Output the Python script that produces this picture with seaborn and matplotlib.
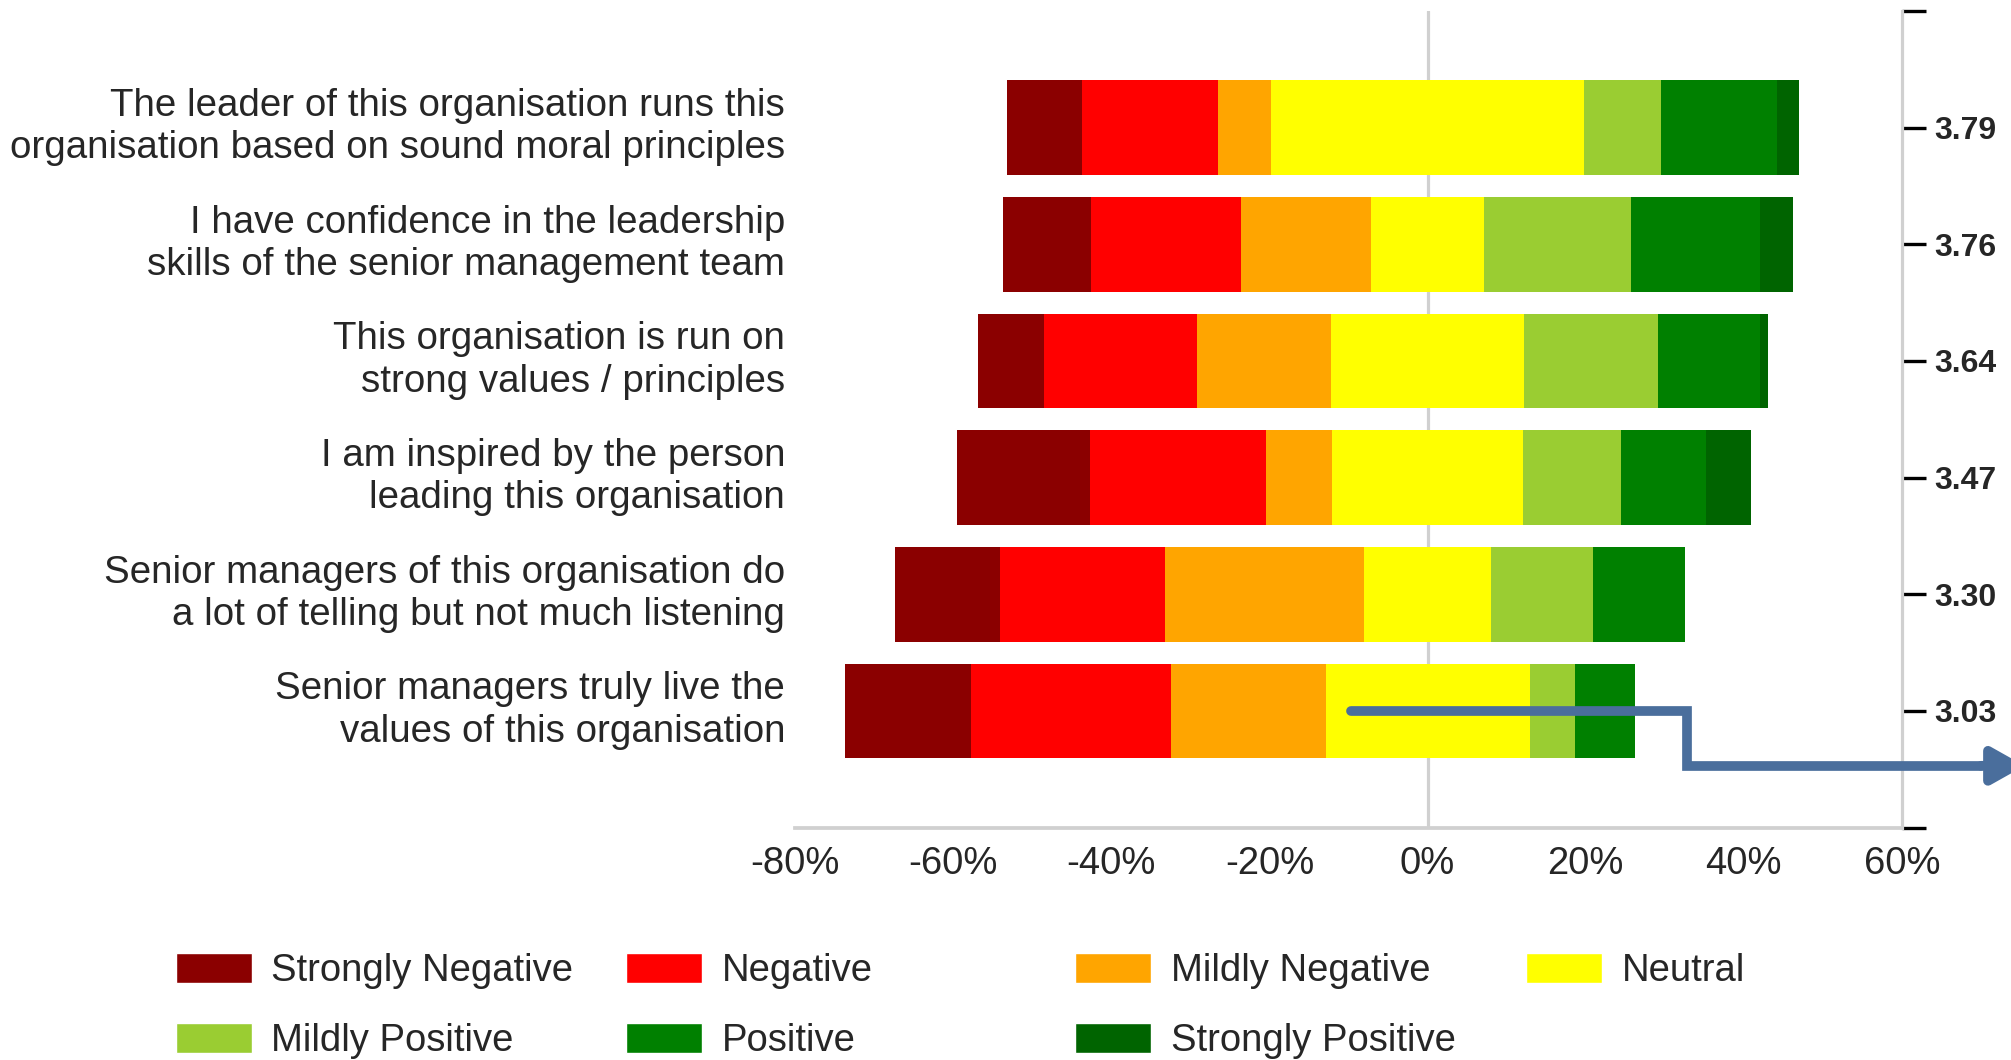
import matplotlib
matplotlib.use("Agg")
import matplotlib.pyplot as plt
import matplotlib.transforms as mtransforms
import seaborn as sns
import numpy as np
from matplotlib.patches import Patch

# statements, top to bottom
statements = [
    "The leader of this organisation runs this\norganisation based on sound moral principles",
    "I have confidence in the leadership\nskills of the senior management team",
    "This organisation is run on\nstrong values / principles",
    "I am inspired by the person\nleading this organisation",
    "Senior managers of this organisation do\na lot of telling but not much listening",
    "Senior managers truly live the\nvalues of this organisation",
]

# share of answers (%) per statement
strongly_negative = [9.4, 11.1, 8.4, 16.8, 13.3, 16.0]
negative = [17.3, 19.0, 19.4, 22.2, 20.9, 25.3]
mildly_negative = [6.7, 16.5, 16.9, 8.4, 25.2, 19.5]
neutral = [39.5, 14.2, 24.4, 24.1, 16.0, 25.8]
mildly_positive = [9.8, 18.6, 16.9, 12.4, 12.9, 5.7]
positive = [14.6, 16.4, 12.9, 10.7, 11.6, 7.6]
strongly_positive = [2.8, 4.1, 1.0, 5.8, 0.0, 0.0]

mean_scores = ["3.79", "3.76", "3.64", "3.47", "3.30", "3.03"]

x_ticks = [-80, -60, -40, -20, 0, 20, 40, 60]

# the blue step line (x in %, y in row units)
path_x = [-9.7, 32.8, 32.8, 70.0]
path_y = [5.0, 5.0, 5.47, 5.47]

labels = ["Strongly Negative", "Negative", "Mildly Negative", "Neutral",
          "Mildly Positive", "Positive", "Strongly Positive"]
colors = ["#8B0000", "#FF0000", "#FFA500", "#FFFF00",
          "#9ACD32", "#008000", "#006400"]
BLUE = "#4A6E9C"
GRID = "#D0D0D0"


def main():
    sns.set_style("white")
    plt.rcParams["font.family"] = ["Liberation Sans", "DejaVu Sans"]

    fig = plt.figure(figsize=(20.11, 10.6), dpi=100)
    ax = fig.add_axes([0.3953, 0.2192, 0.5505, 0.7705])

    sn = np.array(strongly_negative)
    ng = np.array(negative)
    mn = np.array(mildly_negative)
    nu = np.array(neutral) / 2
    mp = np.array(mildly_positive)
    ps = np.array(positive)
    sp = np.array(strongly_positive)

    # negative side: draw the longest first, shorter ones on top
    left_ends = [-(nu + mn + ng + sn), -(nu + mn + ng), -(nu + mn), -nu]
    right_ends = [nu + mp + ps + sp, nu + mp + ps, nu + mp, nu]
    left_cols = [colors[0], colors[1], colors[2], colors[3]]
    right_cols = [colors[6], colors[5], colors[4], colors[3]]

    ax.axvline(0, color=GRID, lw=2.3, zorder=0)
    for ends, col in zip(left_ends + right_ends, left_cols + right_cols):
        sns.barplot(x=list(ends), y=statements, orient="h", color=col,
                    saturation=1, width=0.81, linewidth=0, errorbar=None,
                    ax=ax, zorder=2)

    ax.set_xlim(-80, 60)
    ax.set_ylim(6, -1)
    ax.set_xticks(x_ticks)
    ax.set_xticklabels([f"{v}%" for v in x_ticks])
    ax.set_xlabel("")
    ax.set_ylabel("")
    ax.tick_params(axis="x", length=8.3, width=2.2, color="black",
                   labelsize=27.5, pad=5, direction="out")
    ax.tick_params(axis="y", length=0, labelsize=27.7, pad=7)
    shift_up = mtransforms.ScaledTranslation(0, 0.075, fig.dpi_scale_trans)
    for lab in ax.get_yticklabels():
        lab.set_linespacing(1.22)
        lab.set_transform(lab.get_transform() + shift_up)
    for side in ["left", "top", "right"]:
        ax.spines[side].set_visible(False)
    ax.spines["bottom"].set_color(GRID)
    ax.spines["bottom"].set_linewidth(2.7)

    # mean score axis on the right
    ax2 = ax.twinx()
    ax2.set_ylim(6, -1)
    ax2.set_yticks(range(-1, 7))
    ax2.set_yticklabels([""] + mean_scores + [""])
    ax2.tick_params(axis="y", length=17, width=2.4, color="black",
                    labelsize=23, pad=6)
    for lab in ax2.get_yticklabels():
        lab.set_fontweight("bold")
    for side in ["left", "top", "bottom"]:
        ax2.spines[side].set_visible(False)
    ax2.spines["right"].set_color(GRID)
    ax2.spines["right"].set_linewidth(2.3)

    # blue step line running off the right edge
    sns.lineplot(x=path_x, y=path_y, sort=False, estimator=None, ax=ax2,
                 color=BLUE, linewidth=7, clip_on=False, zorder=5,
                 solid_joinstyle="miter")
    ax2.annotate("", xy=(75.5, path_y[-1]), xytext=(path_x[-1], path_y[-1]),
                 arrowprops=dict(arrowstyle="-|>,head_length=0.8,head_width=0.45",
                                 mutation_scale=24, color=BLUE, lw=7,
                                 shrinkA=0, shrinkB=0),
                 annotation_clip=False, zorder=5)

    # legend: two rows, four evenly spaced columns
    col_x = [0.0875, 0.3113, 0.5346, 0.7588]
    row_y = [1 - 971 / 1060, 1 - 1041 / 1060]
    for i, (lab, col) in enumerate(zip(labels, colors)):
        fig.legend(handles=[Patch(facecolor=col, label=lab)],
                   loc="center left", bbox_to_anchor=(col_x[i % 4], row_y[i // 4]),
                   frameon=False, fontsize=27.5, handlelength=2.0,
                   handleheight=0.84, handletextpad=0.5, borderpad=0,
                   borderaxespad=0)

    fig.savefig("out.png", dpi=100)


if __name__ == "__main__":
    main()
